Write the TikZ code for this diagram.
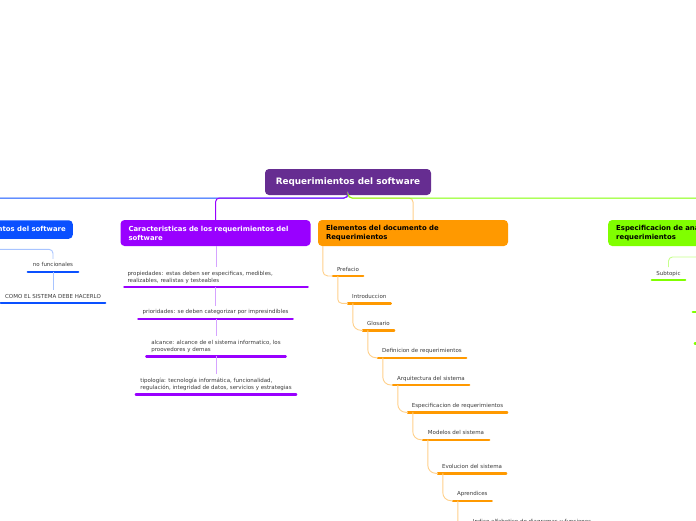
\documentclass[tikz,border=0pt]{standalone}
\usepackage{fontspec}
\setmainfont{DejaVu Sans}
\definecolor{centralC}{HTML}{662D91}
\definecolor{blueM}{HTML}{0A50FF}
\definecolor{blueL}{HTML}{A8C4FF}
\definecolor{purpleM}{HTML}{9900FF}
\definecolor{purpleL}{HTML}{D5A3FF}
\definecolor{orangeM}{HTML}{FF9900}
\definecolor{orangeL}{HTML}{FFD08A}
\definecolor{greenM}{HTML}{80FF00}
\definecolor{greenL}{HTML}{C6FF8C}
\definecolor{subtext}{HTML}{3A3A3A}
\begin{document}
\begin{tikzpicture}[x=1pt,y=-1pt,
  topic/.style={rounded corners=4pt, inner xsep=8pt, inner ysep=0pt,
    minimum height=26pt, text width=174pt, align=left,
    font=\fontsize{6.9}{9}\selectfont\bfseries},
  sub/.style={inner xsep=0pt, inner ysep=3.6pt, anchor=south, text=subtext,
    font=\fontsize{5.5}{7}\selectfont, execute at end node={\vphantom{gy}},
    append after command={(\tikzlastnode.south west) edge[draw=#1, line width=2.4pt, line cap=round] (\tikzlastnode.south east)}},
  mainline/.style={line width=1pt, rounded corners=4pt},
  conn/.style={draw=#1, line width=0.9pt},
]
\useasboundingbox (0,0) rectangle (696,520);

% central
\node[fill=centralC, text=white, rounded corners=4pt, minimum width=166pt, minimum height=26pt,
  inner sep=0pt, font=\fontsize{8.85}{10}\selectfont\bfseries] (c) at (348,182) {Requerimientos del software};
\coordinate (bus) at (348,198);

% main topics
\node[fill=blueM, text=white, rounded corners=4pt, inner xsep=7pt, inner ysep=0pt, minimum height=18.5pt,
  anchor=east, font=\fontsize{6.9}{9}\selectfont\bfseries] (tb) at (73,229.5) {Tipos de requerimientos del software};
\node[topic, fill=purpleM, text=white] (tp) at (215.5,233) {Caracteristicas de los requerimientos del\\software};
\node[topic, fill=orangeM, text=black] (to) at (413,233) {Elementos del documento de\\Requerimientos};
\node[topic, fill=greenM, text=black, text width=200pt, anchor=west] (tg) at (608,233) {Especificacion de analisis de\\requerimientos};
\coordinate (tbin) at ([xshift=-14pt]tb.north);

% main branches
\draw[mainline, draw=blueM] (c.south) -- (bus) -- (bus -| tbin) -- (tbin);
\draw[mainline, draw=orangeL] (c.south) -- (bus) -- (bus -| to.north) -- (to.north);
\draw[mainline, draw=purpleM] (c.south) -- (bus) -- (bus -| tp.north) -- (tp.north);
\draw[mainline, draw=greenM] (c.south) -- (bus) -- (bus -| tg.north) -- (tg.north);

% blue subtopics
\node[sub=blueM, minimum width=50pt] (b1) at (53,271.7) {no funcionales};
\node[sub=blueM, minimum width=104pt] (b2) at (53,303) {COMO EL SISTEMA DEBE HACERLO};
\draw[conn=blueL, rounded corners=4pt] (tb.south) -- (tb.south |- 0,249.3) -| (b1.north);
\draw[conn=blueL] (b1.south) -- (b2.north);

% purple subtopics
\node[sub=purpleM, minimum width=183pt, text width=177pt, align=left] (q1) at (216,287)
  {propiedades: estas deben ser especificas, medibles,\\realizables, realistas y testeables};
\node[sub=purpleM, minimum width=154pt] (q2) at (215.5,318.7)
  {prioridades: se deben categorizar por impresindibles};
\node[sub=purpleM, minimum width=139pt, align=left] (q3) at (216,356.3)
  {alcance: alcance de el sistema informatico, los\\proovedores y demas};
\node[sub=purpleM, minimum width=160pt, align=left] (q4) at (216,394.3)
  {tipología: tecnología informática, funcionalidad,\\regulación, integridad de datos, servicios y estrategias};
\draw[conn=purpleL] (tp.south -| q1.north) -- (q1.north);
\draw[conn=purpleL] (q1.south -| q2.north) -- (q2.north);
\draw[conn=purpleL] (q2.south -| q3.north) -- (q3.north);
\draw[conn=purpleL] (q3.south -| q4.north) -- (q4.north);

% orange subtopics
\node[sub=orangeM, minimum width=30pt] (p1) at (348,276) {Prefacio};
\node[sub=orangeM, minimum width=42.5pt] (p2) at (369.3,303.3) {Introduccion};
\node[sub=orangeM, minimum width=31pt] (p3) at (378.5,330.3) {Glosario};
\node[sub=orangeM, minimum width=88pt] (p4) at (422,357.7) {Definicion de requerimientos};
\node[sub=orangeM, minimum width=76pt] (p5) at (431,385) {Arquitectura del sistema};
\node[sub=orangeM, minimum width=99pt] (p6) at (457.5,412.3) {Especificacion de requerimientos};
\node[sub=orangeM, minimum width=66pt] (p7) at (456,439.7) {Modelos del sistema};
\node[sub=orangeM, minimum width=68pt] (p8) at (472,473.3) {Evolucion del sistema};
\node[sub=orangeM, minimum width=38.5pt] (p9) at (472.3,500.7) {Aprendices};
\node[sub=orangeM, minimum width=128pt] (p10) at (532,528.3) {Indice alfabetico de diagramas y funciones};
\draw[conn=orangeL, rounded corners=5pt] ([xshift=5pt]to.south west) |- (p1.south west);
\draw[conn=orangeL, rounded corners=4pt] ([xshift=5pt]p1.south west) |- (p2.south west);
\draw[conn=orangeL, rounded corners=8pt] ([xshift=5pt]p2.south west) |- (p3.south west);
\draw[conn=orangeL, rounded corners=8pt] ([xshift=5pt]p3.south west) |- (p4.south west);
\draw[conn=orangeL, rounded corners=8pt] ([xshift=5pt]p4.south west) |- (p5.south west);
\draw[conn=orangeL, rounded corners=8pt] ([xshift=5pt]p5.south west) |- (p6.south west);
\draw[conn=orangeL, rounded corners=8pt] ([xshift=5pt]p6.south west) |- (p7.south west);
\draw[conn=orangeL, rounded corners=8pt] ([xshift=5pt]p7.south west) |- (p8.south west);
\draw[conn=orangeL, rounded corners=8pt] ([xshift=5pt]p8.south west) |- (p9.south west);
\draw[conn=orangeL, rounded corners=8pt] ([xshift=5pt]p9.south west) |- (p10.south west);

% green subtopics
\node[sub=greenM, minimum width=33pt] (g1) at (668.5,280) {Subtopic};
\node[sub=greenM, minimum width=40pt] (g2) at (713,311.7) {};
\node[sub=greenM, minimum width=44pt] (g3) at (717,343.3) {};
\draw[conn=greenL, rounded corners=4pt] (tg.south) -- (tg.south |- 0,257) -| (g1.north);
\end{tikzpicture}
\end{document}
